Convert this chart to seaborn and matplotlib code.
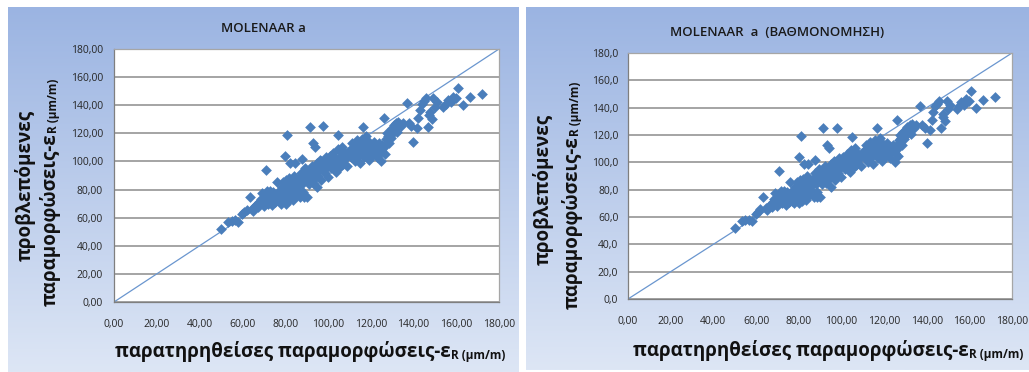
import numpy as np
import matplotlib
matplotlib.use("Agg")
import matplotlib.pyplot as plt
from matplotlib.colors import LinearSegmentedColormap
import seaborn as sns

# observed strains (x) and model predictions (y), in μm/m
observed = [
    50.0, 53.5, 55.0, 56.8, 58.0, 60.0, 61.0, 62.0, 63.5, 64.5, 65.0, 66.0, 66.8, 67.5,
    68.0, 68.5, 69.0, 69.5, 70.0, 70.6, 70.9, 71.0, 71.5, 72.0, 72.5, 73.0, 73.5, 74.0,
    74.5, 75.0, 75.5, 76.0, 76.5, 77.0, 77.5, 78.0, 78.5, 79.0, 79.2, 79.5, 80.0, 80.0,
    80.3, 80.5, 80.8, 81.0, 81.0, 81.3, 81.5, 81.8, 82.0, 82.3, 82.5, 82.8, 83.0, 83.3,
    83.5, 84.0, 84.6, 84.8, 85.0, 85.5, 86.0, 86.5, 87.0, 87.5, 87.7, 88.0, 88.5, 88.8,
    89.0, 89.5, 90.0, 90.0, 90.5, 91.0, 91.6, 91.5, 92.0, 92.5, 93.0, 93.2, 93.5, 94.0,
    94.0, 94.5, 95.0, 95.0, 95.5, 96.0, 96.5, 97.0, 97.5, 97.9, 98.0, 98.5, 99.0, 99.5,
    100.0, 100.0, 100.5, 101.0, 101.5, 102.0, 102.5, 103.0, 103.5, 104.0, 104.5, 104.9,
    105.0, 105.5, 106.0, 106.4, 107.0, 107.5, 108.0, 109.0, 110.0, 110.5, 111.0, 111.5,
    112.0, 112.5, 113.0, 113.5, 114.0, 114.5, 115.0, 115.0, 115.5, 116.0, 116.6, 116.5,
    117.0, 117.5, 118.0, 118.0, 118.5, 119.0, 119.5, 120.0, 120.5, 121.0, 121.5, 122.0,
    122.5, 123.0, 123.5, 124.0, 125.0, 125.0, 125.5, 126.0, 126.0, 126.5, 127.0, 127.5,
    128.0, 128.5, 129.0, 129.5, 130.0, 130.5, 131.0, 131.5, 132.0, 132.5, 133.0, 134.0,
    135.0, 136.8, 138.0, 139.0, 140.0, 141.5, 142.3, 143.0, 144.0, 145.0, 146.0, 146.9,
    147.5, 147.7, 148.5, 149.3, 150.0, 151.0, 154.0, 155.0, 156.0, 157.5, 158.6, 160.0,
    161.0, 163.0, 166.4, 171.9,
    78.5, 79.5, 80.5, 82.0, 83.5, 84.5, 86.0, 89.0, 91.0, 93.0, 96.0, 97.0, 99.0, 101.0,
    102.0, 103.0, 106.0, 108.5, 113.0, 116.0, 119.0, 121.0, 124.0, 73.0, 75.0, 77.0,
]
predicted = [
    52.0, 57.0, 57.5, 58.0, 57.0, 62.5, 64.0, 65.5, 75.0, 66.5, 65.0, 68.0, 69.5, 67.5,
    71.0, 73.0, 77.5, 70.0, 68.0, 75.0, 94.0, 72.0, 79.0, 70.0, 74.0, 76.0, 72.0, 69.0,
    78.0, 73.0, 71.0, 85.5, 75.0, 72.0, 80.0, 70.0, 76.0, 85.5, 73.0, 82.0, 104.0, 78.0,
    70.0, 87.0, 74.0, 119.0, 80.0, 84.0, 72.0, 77.0, 88.0, 98.8, 81.0, 75.0, 85.0, 79.0,
    72.5, 90.0, 98.8, 83.0, 76.0, 86.0, 80.0, 88.0, 74.5, 92.0, 101.6, 84.0, 78.0, 75.0,
    88.0, 95.0, 75.0, 86.0, 91.0, 84.0, 124.8, 93.0, 89.0, 97.0, 85.0, 113.0, 92.0, 110.6,
    88.0, 95.0, 82.0, 99.0, 90.0, 94.0, 101.0, 87.0, 97.0, 125.3, 100.0, 92.0, 103.0, 96.0,
    101.0, 89.0, 98.0, 104.0, 95.0, 100.0, 106.0, 98.0, 102.0, 92.8, 109.0, 118.9,
    100.0, 96.0, 104.0, 110.6, 98.0, 107.0, 102.0, 97.0, 105.0, 108.0, 103.0, 113.0,
    106.0, 100.0, 110.0, 115.0, 104.0, 108.0, 112.0, 99.0, 106.0, 114.0, 124.8, 109.0,
    103.0, 111.0, 118.0, 106.0, 115.0, 101.0, 109.0, 112.0, 104.0, 108.0, 114.0, 106.0,
    111.0, 103.0, 109.0, 113.0, 100.0, 107.0, 112.0, 130.7, 110.0, 105.0, 116.0, 120.0,
    118.0, 113.0, 122.0, 117.0, 124.0, 120.0, 126.0, 123.0, 127.0, 121.0, 128.0, 125.0,
    127.0, 141.4, 127.0, 125.0, 114.0, 123.6, 130.7, 136.6, 141.0, 143.0, 145.0, 124.8,
    133.0, 135.5, 130.0, 145.0, 139.0, 142.0, 139.0, 141.0, 143.8, 142.0, 146.0, 145.0,
    152.5, 140.0, 145.7, 148.0,
    82.0, 75.0, 83.0, 86.0, 79.0, 87.0, 83.0, 91.0, 88.0, 90.0, 97.0, 100.0, 99.0, 102.0,
    97.0, 103.0, 101.0, 104.0, 107.0, 116.0, 113.0, 110.0, 110.0, 79.0, 77.0, 74.0,
]

axis_limits = [0, 180]
tick_values = [0, 20, 40, 60, 80, 100, 120, 140, 160, 180]

left_title = "MOLENAAR a"
right_title = "MOLENAAR  a  (ΒΑΘΜΟΝΟΜΗΣΗ)"
x_label_main = "παρατηρηθείσες παραμορφώσεις-ε"
y_label_top = "προβλεπόμενες"
y_label_main = "παραμορφώσεις-ε"
label_sub = "R (μm/m)"

sns.set_theme(style="white")
plt.rcParams['font.family'] = ['Open Sans', 'DejaVu Sans']

W, H = 1029, 372
fig = plt.figure(figsize=(W / 100, H / 100), dpi=100)
fig.patch.set_facecolor('white')


def px_rect(x0, y0, x1, y1):
    return [x0 / W, 1 - y1 / H, (x1 - x0) / W, (y1 - y0) / H]


panel_cmap = LinearSegmentedColormap.from_list('panel', ['#9BB4E2', '#DDE6F5'])


def panel_background(box):
    bg = fig.add_axes(px_rect(*box), zorder=0)
    bg.imshow(np.linspace(0, 1, 256).reshape(-1, 1), aspect='auto',
              cmap=panel_cmap, extent=[0, 1, 0, 1])
    bg.set_axis_off()
    return bg


def comma_fmt(v, decimals):
    return f"{v:.{decimals}f}".replace('.', ',')


def draw_chart(plot_box, panel_box, title, title_y, ydec, xpad, ypad,
               xlabel_pos, ylab1_pos, ylab2_pos):
    bg = panel_background(panel_box)
    ax = fig.add_axes(px_rect(*plot_box), zorder=2)
    ax.set_facecolor('white')
    ax.plot(axis_limits, axis_limits, color='#6A96CF', lw=0.9, zorder=2)
    sns.scatterplot(x=observed, y=predicted, marker='D', s=30, color='#4A7EBB',
                    linewidth=0, ax=ax, zorder=3, legend=False)
    ax.set_xlim(axis_limits)
    ax.set_ylim(axis_limits)
    ax.set_xticks(tick_values)
    ax.set_yticks(tick_values)
    ax.set_xticklabels([comma_fmt(v, 2) for v in tick_values])
    ax.set_yticklabels([comma_fmt(v, ydec) for v in tick_values])
    ax.grid(axis='y', color='#8C8C8C', lw=1.1, zorder=1)
    ax.grid(axis='x', visible=False)
    ax.tick_params(axis='both', length=0, labelsize=7.5, labelcolor='#262626')
    ax.tick_params(axis='x', pad=xpad)
    ax.tick_params(axis='y', pad=ypad)
    for side, sp in ax.spines.items():
        sp.set_color('#A6A6A6')
        sp.set_linewidth(0.9)
    ax.spines['left'].set_color('#7F7F7F')
    ax.spines['bottom'].set_color('#7F7F7F')

    px0, _, px1, _ = panel_box
    fig.text((px0 + px1) / 2 / W, 1 - title_y / H, title, ha='center', va='center',
             fontsize=9.5, color='#1A1A1A', fontweight='semibold')

    # x label with lowered subscript
    xl = fig.text(xlabel_pos[0] / W, 1 - xlabel_pos[1] / H, x_label_main,
                  ha='left', va='baseline', fontsize=13.5, fontweight='bold',
                  color='#111111')
    bg.annotate(label_sub, xy=(1.0, 0.02), xycoords=xl, ha='left', va='bottom',
                fontsize=8.5, fontweight='bold', color='#111111',
                annotation_clip=False)

    # y label on two lines, the second carries the subscript
    fig.text(ylab1_pos[0] / W, 1 - ylab1_pos[1] / H, y_label_top, rotation=90,
             ha='center', va='center', fontsize=13.5, fontweight='bold',
             color='#111111')
    yl = fig.text(ylab2_pos[0] / W, 1 - ylab2_pos[1] / H, y_label_main,
                  rotation=90, ha='center', va='bottom', fontsize=13.5,
                  fontweight='bold', color='#111111')
    bg.annotate(label_sub, xy=(0.98, 1.0), xycoords=yl, rotation=90,
                ha='right', va='bottom', fontsize=8.5, fontweight='bold',
                color='#111111', annotation_clip=False)
    return ax


draw_chart(plot_box=(114, 49, 499, 302), panel_box=(8, 7, 519, 372),
           title=left_title, title_y=28, ydec=2, xpad=12, ypad=8,
           xlabel_pos=(115, 357), ylab1_pos=(25, 185), ylab2_pos=(50, 306))
draw_chart(plot_box=(628, 53, 1012, 299), panel_box=(526, 7, 1029, 370),
           title=right_title, title_y=32, ydec=1, xpad=12, ypad=7,
           xlabel_pos=(633, 356), ylab1_pos=(543, 189), ylab2_pos=(572, 309))

fig.savefig('out.png', dpi=100, facecolor='white')
